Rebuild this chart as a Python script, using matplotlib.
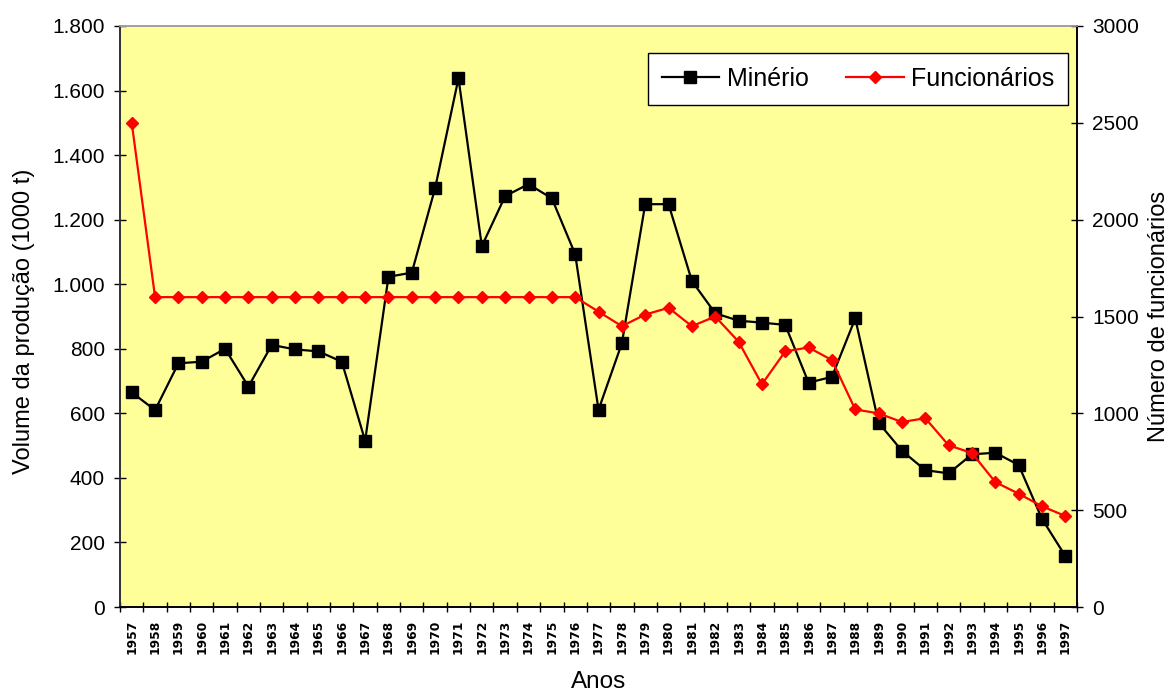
import matplotlib
matplotlib.use("Agg")
import matplotlib.pyplot as plt
import numpy as np
from matplotlib.ticker import FuncFormatter, MultipleLocator

plt.rcParams["font.family"] = ["Liberation Sans", "DejaVu Sans"]

anos = ["1957", "1958", "1959", "1960", "1961", "1962", "1963", "1964", "1965",
        "1966", "1967", "1968", "1969", "1970", "1971", "1972", "1973", "1974",
        "1975", "1976", "1977", "1978", "1979", "1980", "1981", "1982", "1983",
        "1984", "1985", "1986", "1987", "1988", "1989", "1990", "1991", "1992",
        "1993", "1994", "1995", "1996", "1997"]

# produção de minério (1000 t)
minerio = [665, 610, 755, 760, 800, 683, 812, 798, 792, 760,
           515, 1023, 1036, 1298, 1638, 1118, 1273, 1310, 1266, 1093,
           611, 817, 1248, 1248, 1010, 910, 887, 881, 874, 695,
           713, 894, 571, 484, 424, 414, 473, 478, 440, 273,
           158]

# número de funcionários
funcionarios = [2500, 1600, 1600, 1600, 1600, 1600, 1600, 1600, 1600, 1600,
                1600, 1600, 1600, 1600, 1600, 1600, 1600, 1600, 1600, 1600,
                1525, 1450, 1510, 1545, 1450, 1500, 1370, 1150, 1320, 1340,
                1275, 1020, 1000, 955, 975, 835, 795, 645, 585, 520,
                470]

x = np.arange(len(anos))

fig, ax = plt.subplots(figsize=(11.69, 6.95), dpi=100)
fig.subplots_adjust(left=0.1027, right=0.9213, top=0.9626, bottom=0.1266)
ax.set_facecolor("#FFFF99")

l1, = ax.plot(x, minerio, "-s", color="black", lw=1.6, ms=8.8,
              mfc="black", mec="black", label="Minério")
ax.set_xlim(-0.5, len(anos) - 0.5)
ax.set_ylim(0, 1800)
ax.yaxis.set_major_locator(MultipleLocator(200))
ax.yaxis.set_major_formatter(FuncFormatter(lambda v, p: f"{int(v):,}".replace(",", ".")))

ax2 = ax.twinx()
l2, = ax2.plot(x, funcionarios, "-D", color="#FF0000", lw=1.6, ms=6,
               mfc="#FF0000", mec="#FF0000", label="Funcionários")
ax2.set_ylim(0, 3000)
ax2.yaxis.set_major_locator(MultipleLocator(500))

# category labels at the centers, tick marks between categories
ax.set_xticks(x)
ax.set_xticklabels(anos, rotation=90, fontsize=8.8, fontweight="bold",
                   family="DejaVu Sans")
ax.set_xticks(np.arange(-0.5, len(anos)), minor=True)
ax.tick_params(axis="x", which="major", length=0, pad=9)
ax.tick_params(axis="x", which="minor", length=7, direction="inout", width=1)
ax.tick_params(axis="y", length=9, direction="inout", width=1, labelsize=15, pad=6.5)
ax2.tick_params(axis="y", length=9, direction="inout", width=1, labelsize=15, pad=6.5)

for a in (ax, ax2):
    a.spines["top"].set_color("#A0A0A0")
    a.spines["left"].set_color("#303030")
    a.spines["bottom"].set_color("black")
    a.spines["right"].set_color("black")
    for s in a.spines.values():
        s.set_linewidth(1.2)

ax.set_ylabel("Volume da produção (1000 t)", fontsize=17)
ax.yaxis.set_label_coords(-0.089, 0.491)
ax2.set_ylabel("Número de funcionários", fontsize=17)
ax2.yaxis.set_label_coords(1.074, 0.5)
ax.set_xlabel("Anos", fontsize=17.5)
ax.xaxis.set_label_coords(0.5, -0.11)

leg = ax2.legend([l1, l2], ["Minério", "Funcionários"], ncol=2, loc="upper right",
                 bbox_to_anchor=(0.9906, 0.9535), borderaxespad=0, fontsize=18,
                 frameon=True, fancybox=False, framealpha=1, edgecolor="black",
                 handlelength=2.3, handletextpad=0.3, columnspacing=1.5, borderpad=0.55)
leg.get_frame().set_linewidth(1.0)

fig.savefig("out.png", dpi=100)
